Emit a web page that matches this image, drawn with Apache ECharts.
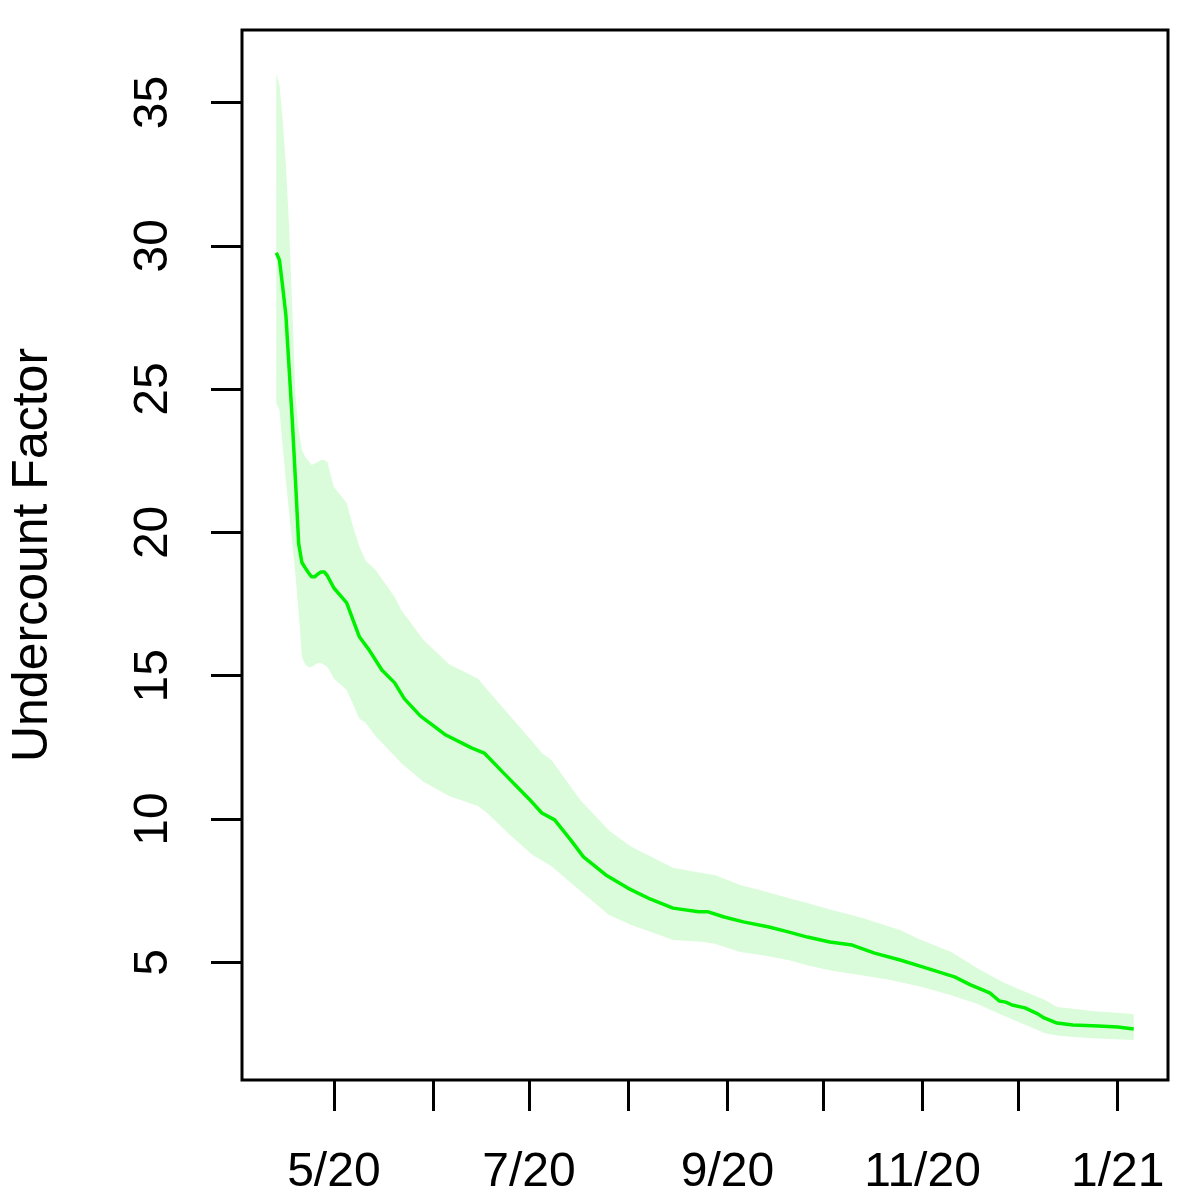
<!DOCTYPE html>
<html>
<head>
<meta charset="utf-8">
<script src="https://cdn.jsdelivr.net/npm/echarts@6/dist/echarts.min.js"></script>
<style>
html,body{margin:0;padding:0;background:#fff;}
#chart{width:1200px;height:1200px;}
</style>
</head>
<body>
<div id="chart"></div>
<script>
// ---- data ----
const lineDates = ['2020-04-13','2020-04-14','2020-04-15','2020-04-16','2020-04-17','2020-04-18','2020-04-19','2020-04-20','2020-04-21','2020-04-22','2020-04-23','2020-04-24','2020-04-25','2020-04-26','2020-04-27','2020-04-28','2020-04-29','2020-04-30',
  '2020-05-01','2020-05-03','2020-05-05','2020-05-07','2020-05-09','2020-05-12','2020-05-14','2020-05-16','2020-05-20','2020-05-23','2020-05-28',
  '2020-06-05','2020-06-13','2020-06-17','2020-06-23',
  '2020-07-01','2020-07-05','2020-07-09','2020-07-14','2020-07-18','2020-07-25',
  '2020-08-01','2020-08-08','2020-08-15','2020-08-23','2020-08-26','2020-08-31',
  '2020-09-06','2020-09-14','2020-09-20','2020-09-26',
  '2020-10-03','2020-10-10','2020-10-17','2020-10-25',
  '2020-11-01','2020-11-05','2020-11-11','2020-11-16','2020-11-22','2020-11-25','2020-11-27','2020-11-29',
  '2020-12-03','2020-12-07','2020-12-09','2020-12-13','2020-12-18','2020-12-26',
  '2021-01-01','2021-01-06'];
const lineValues = [29.76,29.5,28.56,27.58,25.74,23.9,21.8,19.6,18.95,18.77,18.6,18.45,18.45,18.55,18.62,18.62,18.48,18.27,
  18.06,17.8,17.54,16.94,16.35,15.9,15.55,15.2,14.75,14.2,13.6,
  12.93,12.48,12.3,11.61,
  10.7,10.21,9.97,9.27,8.68,8.05,
  7.58,7.2,6.89,6.76,6.76,6.58,
  6.41,6.23,6.06,5.88,
  5.71,5.6,5.32,5.08,
  4.84,4.7,4.49,4.21,3.93,3.65,3.61,3.51,
  3.41,3.2,3.06,2.88,2.81,2.78,
  2.74,2.67];

const bandDates = ['2020-04-13','2020-04-14','2020-04-15','2020-04-16','2020-04-17','2020-04-18','2020-04-19','2020-04-20','2020-04-21','2020-04-22','2020-04-23','2020-04-24','2020-04-25','2020-04-26','2020-04-27','2020-04-28','2020-04-29','2020-04-30','2020-05-01',
  '2020-05-05','2020-05-07','2020-05-09','2020-05-11','2020-05-14','2020-05-20','2020-05-22','2020-05-29',
  '2020-06-06','2020-06-15','2020-06-18','2020-06-25',
  '2020-07-02','2020-07-05','2020-07-08','2020-07-17','2020-07-26','2020-07-30',
  '2020-08-02','2020-08-09','2020-08-15','2020-08-24','2020-08-28',
  '2020-09-05','2020-09-12','2020-09-20','2020-09-26',
  '2020-10-04','2020-10-13','2020-10-22','2020-10-25','2020-10-31',
  '2020-11-10','2020-11-18','2020-11-26',
  '2020-12-01','2020-12-07','2020-12-09','2020-12-13','2020-12-18','2020-12-24',
  '2021-01-06'];
const bandUpper = [36.0,35.6,34.4,32.8,30.7,27.8,24.8,23.57,22.88,22.64,22.5,22.35,22.4,22.46,22.53,22.53,22.46,22.0,21.58,
  21.03,20.2,19.5,19.0,18.7,17.75,17.3,16.25,
  15.4,14.9,14.5,13.6,
  12.7,12.3,12.06,10.66,9.6,9.27,
  9.03,8.64,8.3,8.12,8.05,
  7.7,7.5,7.24,7.07,
  6.82,6.55,6.23,6.13,5.8,
  5.36,4.8,4.31,
  4.07,3.79,3.7,3.44,3.38,3.3,
  3.2];
const bandLower = [24.5,24.27,23.0,21.8,20.7,19.6,18.5,17.2,15.65,15.4,15.3,15.3,15.37,15.44,15.44,15.37,15.3,15.1,14.9,
  14.5,14.0,13.5,13.35,12.9,12.2,11.95,11.3,
  10.8,10.45,10.2,9.45,
  8.75,8.55,8.35,7.5,6.65,6.45,
  6.3,6.02,5.78,5.72,5.65,
  5.36,5.25,5.08,4.9,
  4.7,4.55,4.38,4.3,4.16,
  3.85,3.55,3.15,
  2.92,2.64,2.53,2.45,2.39,2.35,
  2.29];

const xTickDates = ['2020-05-01','2020-06-01','2020-07-01','2020-08-01','2020-09-01','2020-10-01','2020-11-01','2020-12-01','2021-01-01'];
const xTickLabels = ['5/20','','7/20','','9/20','','11/20','','1/21'];
const yTicks = [5,10,15,20,25,30,35];
const yTitle = 'Undercount Factor';

// ---- helpers ----
const BASE = Date.UTC(2020,4,1);
function dayNum(s){const p=s.split('-').map(Number);return (Date.UTC(p[0],p[1]-1,p[2])-BASE)/86400000;}

const lineX = lineDates.map(dayNum);
const bandX = bandDates.map(dayNum);
const xTicks = xTickDates.map(dayNum);
const xLabelVals = xTicks.filter((v,i)=>xTickLabels[i] !== '');
const labelOf = {};
xTicks.forEach((v,i)=>{labelOf[v]=xTickLabels[i];});

const d0 = lineX[0], d1 = lineX[lineX.length-1];
const xMin = d0 - 0.04*(d1-d0);
const xMax = d1 + 0.04*(d1-d0);
const yMin = 0.893, yMax = 37.53;

const FONT = 'Liberation Sans, Arial, Helvetica, sans-serif';

const chart = echarts.init(document.getElementById('chart'), null, {renderer:'canvas'});
chart.setOption({
  animation:false,
  backgroundColor:'#ffffff',
  grid:{left:240, top:30, right:32, bottom:120, show:true, borderColor:'#000', borderWidth:3, backgroundColor:'transparent'},
  xAxis:{
    type:'value', min:xMin, max:xMax,
    axisLine:{show:false, onZero:false},
    splitLine:{show:false},
    axisTick:{show:true, inside:false, length:31, lineStyle:{color:'#000', width:3}, customValues:xTicks},
    axisLabel:{show:true, margin:69, fontSize:48, color:'#000', fontFamily:FONT, lineHeight:48,
      customValues:xLabelVals, formatter:(v)=>labelOf[v] || ''}
  },
  yAxis:{
    type:'value', min:yMin, max:yMax,
    name:yTitle, nameLocation:'middle', nameGap:184,
    nameTextStyle:{fontSize:50, color:'#000', fontFamily:FONT, lineHeight:50},
    axisLine:{show:false, onZero:false},
    splitLine:{show:false},
    axisTick:{show:true, inside:false, length:31, lineStyle:{color:'#000', width:3}, customValues:yTicks},
    axisLabel:{show:true, rotate:90, margin:64, fontSize:48, color:'#000', fontFamily:FONT, lineHeight:48,
      customValues:yTicks}
  },
  series:[
    {
      type:'custom',
      silent:true,
      clip:true,
      data:[[bandX[0], bandUpper[0]]],
      renderItem:function(params, api){
        const pts=[];
        for(let i=0;i<bandX.length;i++) pts.push(api.coord([bandX[i], bandUpper[i]]));
        for(let i=bandX.length-1;i>=0;i--) pts.push(api.coord([bandX[i], bandLower[i]]));
        return {type:'polygon', shape:{points:pts}, style:{fill:'#dbfcdb', stroke:null}};
      },
      z:1
    },
    {
      type:'line',
      data:lineX.map((x,i)=>[x, lineValues[i]]),
      showSymbol:false,
      symbol:'none',
      lineStyle:{color:'#00f000', width:3.5},
      z:2
    }
  ]
});
</script>
</body>
</html>
